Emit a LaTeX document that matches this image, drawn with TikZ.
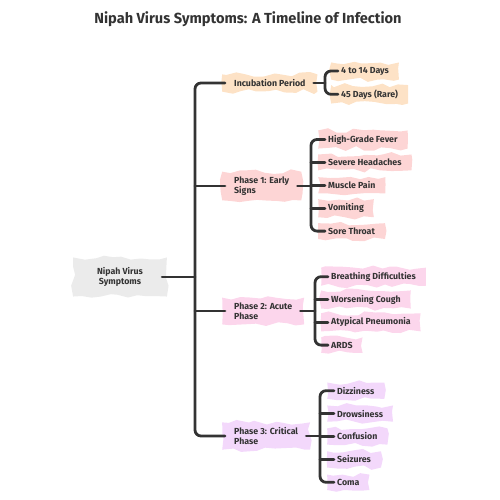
\documentclass[tikz,border=0pt]{standalone}
\usepackage{fontspec}
\setmainfont{Fira Sans}
\usetikzlibrary{decorations.pathmorphing}
\definecolor{ink}{HTML}{333333}
\definecolor{rootfill}{HTML}{EBEBEB}
\definecolor{incfill}{HTML}{FDE2C6}
\definecolor{onefill}{HTML}{FDD5D5}
\definecolor{twofill}{HTML}{FCD6EC}
\definecolor{threefill}{HTML}{F3D8FB}
\tikzset{
  branch/.style={draw=ink, line width=2.8pt, line cap=round, rounded corners=6pt},
  blob/.style={fill=#1, decorate, decoration={random steps, segment length=9pt, amplitude=2.4pt},
    text=ink, font=\fontsize{8.8}{10}\selectfont\bfseries, align=left},
  leaf/.style={blob=#1, inner xsep=10pt, inner ysep=4.5pt, anchor=west},
  phase/.style={blob=#1, inner xsep=12pt, inner ysep=5pt, anchor=west},
}
\pgfmathsetseed{7}

\begin{document}
\begin{tikzpicture}[x=1pt,y=-1pt]
\useasboundingbox (0,0) rectangle (500,500);
\node[text=ink, font=\fontsize{14.6}{16}\selectfont\bfseries] (title) at (248,19) {Nipah Virus Symptoms: A Timeline of Infection};

% root and trunk
\node[blob=rootfill, inner xsep=24pt, inner ysep=10pt, align=center] (root) at (120,277) {Nipah Virus\\Symptoms};
\coordinate (trunk) at (195,0);

% phases
\node[phase=incfill] (inc) at (222,83) {Incubation Period};
\node[phase=onefill] (ph1) at (222,186) {Phase 1: Early\\Signs};
\node[phase=twofill] (ph2) at (222,311) {Phase 2: Acute\\Phase};
\node[phase=threefill] (ph3) at (222,436) {Phase 3: Critical\\Phase};

\draw[branch] ([xshift=3pt]inc.west) -- (inc.west -| trunk) |- ([xshift=3pt]ph3.west);
\draw[branch] (root.east -| trunk) -- ([xshift=-5pt]root.east);
\foreach \p in {ph1,ph2}
  \draw[branch] (\p.west -| trunk) -- ([xshift=3pt]\p.west);

% incubation
\coordinate (b0) at (325,0);
\foreach \txt [count=\i] in {4 to 14 Days, 45 Days (Rare)}
  \node[leaf=incfill] (i\i) at (331,{71+23.3*(\i-1)}) {\txt};
\draw[branch] ([xshift=7pt]i1.west) -- (i1.west -| b0) |- ([xshift=7pt]i2.west);
\draw[branch] ([xshift=-4pt]inc.east) -- (inc.east -| b0);

% phase 1
\coordinate (b1) at (311,0);
\foreach \txt [count=\i] in {High-Grade Fever, Severe Headaches, Muscle Pain, Vomiting, Sore Throat}
  \node[leaf=onefill] (a\i) at (318,{139.5+22.9*(\i-1)}) {\txt};
\draw[branch] ([xshift=7pt]a1.west) -- (a1.west -| b1) |- ([xshift=7pt]a5.west);
\foreach \i in {2,3,4}
  \draw[branch] (a\i.west -| b1) -- ([xshift=7pt]a\i.west);
\draw[branch] ([xshift=-4pt]ph1.east) -- (ph1.east -| b1);

% phase 2
\coordinate (b2) at (315,0);
\foreach \txt [count=\i] in {Breathing Difficulties, Worsening Cough, Atypical Pneumonia, ARDS}
  \node[leaf=twofill] (c\i) at (321,{276.7+22.8*(\i-1)}) {\txt};
\draw[branch] ([xshift=7pt]c1.west) -- (c1.west -| b2) |- ([xshift=7pt]c4.west);
\foreach \i in {2,3}
  \draw[branch] (c\i.west -| b2) -- ([xshift=7pt]c\i.west);
\draw[branch] ([xshift=-4pt]ph2.east) -- (ph2.east -| b2);

% phase 3
\coordinate (b3) at (320,0);
\foreach \txt [count=\i] in {Dizziness, Drowsiness, Confusion, Seizures, Coma}
  \node[leaf=threefill] (d\i) at (327,{390.7+22.9*(\i-1)}) {\txt};
\draw[branch] ([xshift=7pt]d1.west) -- (d1.west -| b3) |- ([xshift=7pt]d5.west);
\foreach \i in {2,3,4}
  \draw[branch] (d\i.west -| b3) -- ([xshift=7pt]d\i.west);
\draw[branch] ([xshift=-4pt]ph3.east) -- (ph3.east -| b3);
\end{tikzpicture}
\end{document}
